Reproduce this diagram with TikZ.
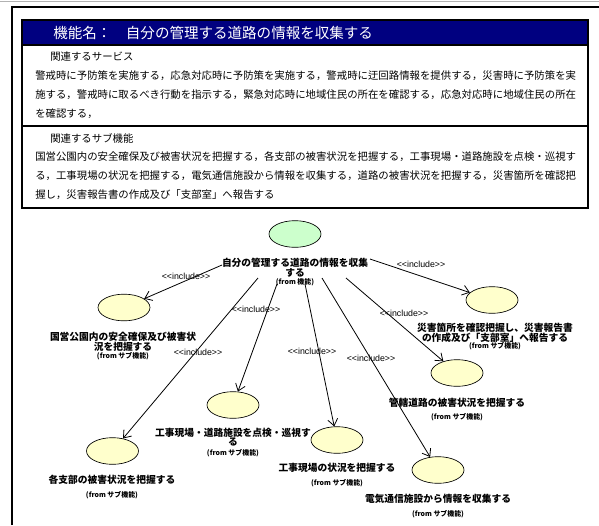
\documentclass[tikz,border=0pt]{standalone}
\usepackage{fontspec}
\setmainfont{Liberation Sans}
\newfontfamily\jp{Noto Sans CJK JP}
\usetikzlibrary{arrows.meta,shapes.geometric}
\definecolor{hdrblue}{RGB}{0,0,128}
\definecolor{ucgreen}{RGB}{204,255,204}
\definecolor{ucyellow}{RGB}{255,255,204}
\XeTeXlinebreaklocale "ja"
\XeTeXlinebreakskip=0pt plus 1pt
\newcommand{\incl}{<{}<include>{}>}
\begin{document}
\begin{tikzpicture}[x=0.75pt,y=-0.75pt,
  frameline/.style={line width=1.1pt},
  uc/.style={draw, ellipse, line width=0.5pt, inner sep=0pt, minimum width=39pt, minimum height=20pt},
  ucmain/.style={uc, fill=ucgreen},
  ucsub/.style={uc, fill=ucyellow},
  bodyline/.style={anchor=west, inner sep=0pt, font=\jp\fontsize{7.8}{9}\selectfont},
  fullline/.style={bodyline, text width=411pt, align=justify},
  lbl/.style={inner sep=0pt, font=\jp\bfseries\fontsize{7.3}{8}\selectfont},
  fromlbl/.style={inner sep=0pt, font=\jp\bfseries\fontsize{5.2}{6}\selectfont},
  inc/.style={inner sep=0pt, font=\fontsize{6.6}{7}\selectfont},
  dep/.style={line width=0.6pt, -{Straight Barb[length=5pt,width=7.5pt]}}
]
\useasboundingbox (0,0) rectangle (599,525);
% outer frame
\draw[gray!60, line width=0.6pt] (0,1.5) -- (599,1.5);
\draw[frameline] (12,525) -- (12,7) -- (599,7);
% header
\draw[frameline, fill=hdrblue] (22,20) rectangle (588,45);
\node[anchor=west, inner sep=0pt, text=white, font=\jp\fontsize{10.9}{12}\selectfont] (hdr) at (53,33) {機能名：\hspace{1em}自分の管理する道路の情報を収集する};
% info box
\draw[frameline] (22,45) rectangle (588,208);
\draw[frameline] (22,126) -- (588,126);
\node[bodyline] (svcT) at (50,57) {関連するサービス};
\node[fullline] (svc1) at (35,76) {\parfillskip=0pt 警戒時に予防策を実施する，応急対応時に予防策を実施する，警戒時に迂回路情報を提供する，災害時に予防策を実};
\node[fullline] (svc2) at (35,95) {\parfillskip=0pt 施する，警戒時に取るべき行動を指示する，緊急対応時に地域住民の所在を確認する，応急対応時に地域住民の所在};
\node[bodyline] (svc3) at (35,114) {を確認する，};
\node[bodyline] (subT) at (50,138) {関連するサブ機能};
\node[fullline] (sub1) at (35,157) {\parfillskip=0pt 国営公園内の安全確保及び被害状況を把握する，各支部の被害状況を把握する，工事現場・道路施設を点検・巡視す};
\node[fullline] (sub2) at (35,176) {\parfillskip=0pt る，工事現場の状況を把握する，電気通信施設から情報を収集する，道路の被害状況を把握する，災害箇所を確認把};
\node[bodyline] (sub3) at (35,195) {握し，災害報告書の作成及び「支部室」へ報告する};

% use cases
\node[ucmain] (main) at (295,234) {};
\node[lbl] (mainA) at (295,263) {自分の管理する道路の情報を収集};
\node[lbl] (mainB) at (295,273) {する};
\node[fromlbl] (mainF) at (295,282) {(from 機能)};

\node[ucsub] (t1) at (124,307.5) {};
\node[lbl] (t1A) at (123,337) {国営公園内の安全確保及び被害状};
\node[lbl] (t1B) at (123,347) {況を把握する};
\node[fromlbl] (t1F) at (123,356) {(from サブ機能)};

\node[ucsub] (t2) at (492,300) {};
\node[lbl] (t2A) at (495,328) {災害箇所を確認把握し、災害報告書};
\node[lbl] (t2B) at (495,338) {の作成及び「支部室」へ報告する};
\node[fromlbl] (t2F) at (495,346) {(from サブ機能)};

\node[ucsub] (t3) at (112.5,451) {};
\node[lbl] (t3A) at (112,480) {各支部の被害状況を把握する};
\node[fromlbl] (t3F) at (112,495) {(from サブ機能)};

\node[ucsub] (t4) at (233,405) {};
\node[lbl] (t4A) at (233,433) {工事現場・道路施設を点検・巡視す};
\node[lbl] (t4B) at (233,442) {る};
\node[fromlbl] (t4F) at (233,453) {(from サブ機能)};

\node[ucsub] (t5) at (337,440) {};
\node[lbl] (t5A) at (337,468) {工事現場の状況を把握する};
\node[fromlbl] (t5F) at (337,483) {(from サブ機能)};

\node[ucsub] (t6) at (438,470) {};
\node[lbl] (t6A) at (438,499) {電気通信施設から情報を収集する};
\node[fromlbl] (t6F) at (438,514) {(from サブ機能)};

\node[ucsub] (t7) at (457,373) {};
\node[lbl] (t7A) at (457,403) {管轄道路の被害状況を把握する};
\node[fromlbl] (t7F) at (457,417) {(from サブ機能)};

% connector start points (where the lines leave the main label)
\coordinate (s1) at (222,265);
\coordinate (s2) at (370,259);
\coordinate (s3) at (258,278);
\coordinate (s4) at (277,284);
\coordinate (s5) at (305,284);
\coordinate (s6) at (322,278);
\coordinate (s7) at (346,278);
\draw[dep] (s1) -- (t1);
\draw[dep] (s2) -- (t2);
\draw[dep] (s3) -- (t3);
\draw[dep] (s4) -- (t4);
\draw[dep] (s5) -- (t5);
\draw[dep] (s6) -- (t6);
\draw[dep] (s7) -- (t7);

% include labels
\node[inc] (i1) at (186,276) {\incl};
\node[inc] (i2) at (421,264) {\incl};
\node[inc] (i3) at (198,352) {\incl};
\node[inc] (i4) at (256,309) {\incl};
\node[inc] (i5) at (312,351) {\incl};
\node[inc] (i6) at (371,358) {\incl};
\node[inc] (i7) at (404,313) {\incl};
\end{tikzpicture}
\end{document}
